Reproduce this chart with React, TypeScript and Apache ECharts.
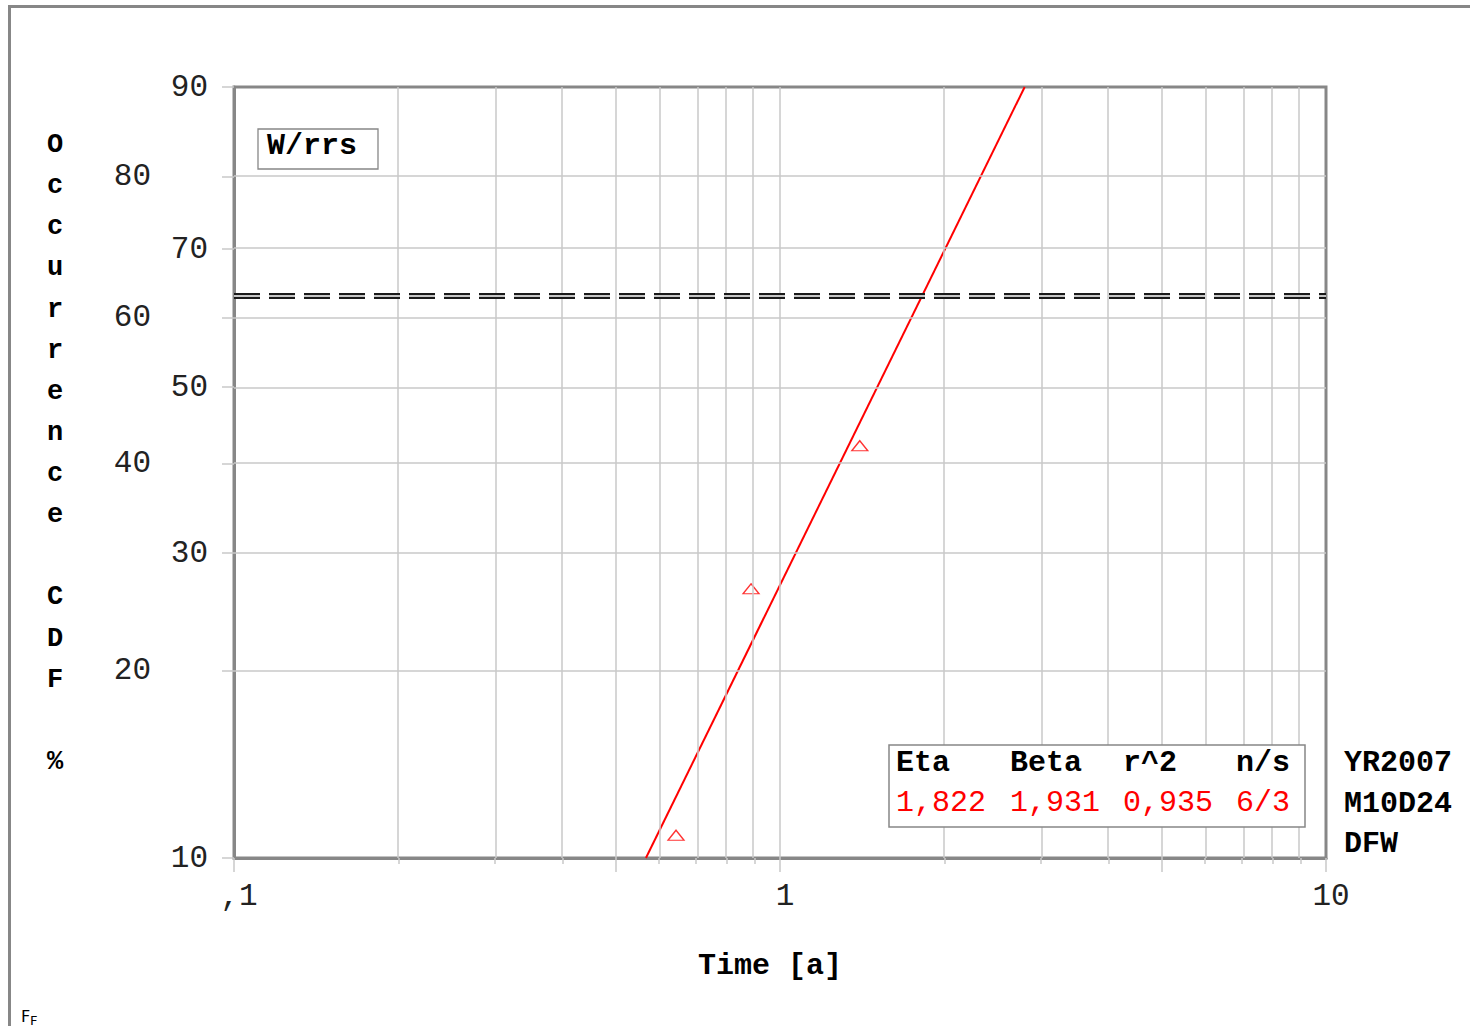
import React, { useEffect, useRef } from "react";
import * as echarts from "echarts";

// Failure data plotted on Weibull paper (median ranks, n = 6, 3 failures)
const FAILURE_TIMES = [0.645, 0.885, 1.4];
const MEDIAN_RANKS = [10.9, 26.6, 42.2];

// Fitted Weibull parameters
const ETA = 1.822;
const BETA = 1.931;
const R_SQUARED = 0.935;
const SAMPLE_SIZE = "6/3";

// Axis ticks
const Y_TICKS = [10, 20, 30, 40, 50, 60, 70, 80, 90];
const X_GRID = [0.1, 0.2, 0.3, 0.4, 0.5, 0.6, 0.7, 0.8, 0.9, 1, 2, 3, 4, 5, 6, 7, 8, 9, 10];
const X_LONG_TICKS = [0.1, 0.5, 1, 5, 10];
const X_LABEL_VALUES = [0.1, 1, 10];
const X_LABEL_TEXTS = [",1", "1", "10"];

const LEGEND_HEADERS = ["Eta", "Beta", "r^2", "n/s"];
const STAMP_LINES = ["YR2007", "M10D24", "DFW"];
const Y_TITLE = "Occurrence CDF %";

const MONO = "'Liberation Mono', 'DejaVu Sans Mono', monospace";

// Weibull probability scale and log time scale
const weib = (pct: number) => Math.log(-Math.log(1 - pct / 100));
const invWeib = (v: number) => 100 * (1 - Math.exp(-Math.exp(v)));
const lg = (t: number) => Math.log10(t);

const Y_MIN = weib(Y_TICKS[0]);
const Y_MAX = weib(Y_TICKS[Y_TICKS.length - 1]);
const X_MIN = lg(X_GRID[0]);
const X_MAX = lg(X_GRID[X_GRID.length - 1]);

const fmtComma = (v: number, d: number) => v.toFixed(d).replace(".", ",");

// time at which the fitted CDF reaches pct
const fitTime = (pct: number) => ETA * Math.pow(-Math.log(1 - pct / 100), 1 / BETA);

export default function App() {
  const ref = useRef<HTMLDivElement>(null);

  useEffect(() => {
    if (!ref.current) return;
    const chart = echarts.init(ref.current, null, { renderer: "svg" });

    const gridColor = "#c8c8c8";
    const frameColor = "#878787";

    const interiorX = X_GRID.filter((t, i) => i > 0 && i < X_GRID.length - 1);
    const interiorY = Y_TICKS.filter((p, i) => i > 0 && i < Y_TICKS.length - 1);
    const shortTicks = X_GRID.filter((t) => X_LONG_TICKS.indexOf(t) < 0);

    const fitLine = [Y_TICKS[0], Y_TICKS[Y_TICKS.length - 1]].map((p) => [lg(fitTime(p)), weib(p)]);
    const points = FAILURE_TIMES.map((t, i) => [lg(t), weib(MEDIAN_RANKS[i])]);
    const charLife = weib(100 * (1 - Math.exp(-1)));

    const legendX = [897, 1011, 1124, 1237];
    const legendValues = [fmtComma(ETA, 3), fmtComma(BETA, 3), fmtComma(R_SQUARED, 3), SAMPLE_SIZE];

    const titleChars = Y_TITLE.split("");

    const graphics: any[] = [
      // outer frame
      {
        type: "rect",
        shape: { x: 9.5, y: 6.5, width: 1500, height: 1100 },
        style: { fill: "none", stroke: frameColor, lineWidth: 3 },
        z: 1,
        silent: true,
      },
      // model box
      {
        type: "rect",
        shape: { x: 258, y: 129, width: 120, height: 40 },
        style: { fill: "#fff", stroke: frameColor, lineWidth: 1.3 },
        z: 100,
      },
      {
        type: "text",
        x: 267,
        y: 146,
        style: { text: "W/rrs", font: `bold 30px ${MONO}`, fill: "#000", textVerticalAlign: "middle" },
        z: 101,
      },
      // parameter box
      {
        type: "rect",
        shape: { x: 889, y: 745, width: 416, height: 82 },
        style: { fill: "#fff", stroke: frameColor, lineWidth: 1.5 },
        z: 100,
      },
      ...LEGEND_HEADERS.map((h, i) => ({
        type: "text",
        x: legendX[i] - 1,
        y: 763,
        style: { text: h, font: `bold 30px ${MONO}`, fill: "#000", textVerticalAlign: "middle" },
        z: 101,
      })),
      ...legendValues.map((v, i) => ({
        type: "text",
        x: legendX[i] - 1,
        y: 803,
        style: { text: v, font: `30px ${MONO}`, fill: "#ff0000", textVerticalAlign: "middle" },
        z: 101,
      })),
      ...STAMP_LINES.map((s, i) => ({
        type: "text",
        x: 1344,
        y: 763 + i * 40.5,
        style: { text: s, font: `bold 30px ${MONO}`, fill: "#000", textVerticalAlign: "middle" },
        z: 101,
      })),
      // vertical axis title, one character per row
      ...titleChars
        .map((c, i) => ({ c, i }))
        .filter((o) => o.c !== " ")
        .map((o) => ({
          type: "text",
          x: 55,
          y: 145 + o.i * 41.13,
          style: {
            text: o.c,
            font: `bold 27px ${MONO}`,
            fill: "#000",
            textAlign: "center",
            textVerticalAlign: "middle",
          },
          z: 101,
        })),
      {
        type: "text",
        x: 21,
        y: 1016,
        style: { text: "F", font: "16px 'DejaVu Sans', sans-serif", fill: "#000", textVerticalAlign: "middle" },
      },
      {
        type: "text",
        x: 30,
        y: 1020,
        style: { text: "F", font: "13px 'DejaVu Sans', sans-serif", fill: "#000", textVerticalAlign: "middle" },
      },
    ];

    const option: any = {
      animation: false,
      backgroundColor: "#fff",
      grid: {
        left: 234,
        right: 144,
        top: 87,
        bottom: 168,
        show: true,
        borderColor: frameColor,
        borderWidth: 3,
        backgroundColor: "transparent",
        containLabel: false,
        outerBoundsMode: "none",
      },
      xAxis: [
        {
          type: "value",
          min: X_MIN,
          max: X_MAX,
          position: "bottom",
          axisLine: { show: true, onZero: false, lineStyle: { color: frameColor, width: 3 } },
          axisTick: {
            show: true,
            customValues: X_LONG_TICKS.map(lg),
            length: 14,
            lineStyle: { color: gridColor, width: 1.5 },
          },
          axisLabel: {
            customValues: X_LABEL_VALUES.map(lg),
            formatter: (v: number) => {
              const idx = X_LABEL_VALUES.findIndex((t) => Math.abs(lg(t) - v) < 1e-6);
              return idx >= 0 ? X_LABEL_TEXTS[idx] : "";
            },
            margin: 23,
            fontFamily: MONO,
            fontSize: 31,
            color: "#222",
            padding: [0, 0, 0, 10],
          },
          splitLine: { show: false },
          name: "Time [a]",
          nameLocation: "middle",
          nameGap: 93,
          nameTextStyle: {
            fontFamily: MONO,
            fontSize: 30,
            fontWeight: "bold",
            color: "#000",
            padding: [0, 20, 0, 0],
          },
        },
        {
          type: "value",
          min: X_MIN,
          max: X_MAX,
          position: "bottom",
          offset: 0,
          axisLine: { show: false, onZero: false },
          axisTick: {
            show: true,
            customValues: shortTicks.map(lg),
            length: 6,
            lineStyle: { color: gridColor, width: 1.5 },
          },
          axisLabel: { show: false },
          splitLine: { show: false },
        },
      ],
      yAxis: {
        type: "value",
        min: Y_MIN,
        max: Y_MAX,
        position: "left",
        axisLine: { show: true, onZero: false, lineStyle: { color: frameColor, width: 3 } },
        axisTick: {
          show: true,
          customValues: Y_TICKS.map(weib),
          length: 12,
          lineStyle: { color: gridColor, width: 1.5 },
        },
        axisLabel: {
          customValues: Y_TICKS.map(weib),
          formatter: (v: number) => {
            const p = Math.round(invWeib(v));
            return p % 20 === 0 ? `{far|${p}}` : `{near|${p}}`;
          },
          margin: 26,
          fontFamily: MONO,
          fontSize: 31,
          color: "#222",
          rich: {
            near: { fontFamily: MONO, fontSize: 31, color: "#222" },
            far: { fontFamily: MONO, fontSize: 31, color: "#222", padding: [0, 57, 0, 0] },
          },
        },
        splitLine: { show: false },
      },
      series: [
        {
          // grid lines
          type: "line",
          data: [],
          silent: true,
          z: 1,
          markLine: {
            silent: true,
            symbol: "none",
            label: { show: false },
            lineStyle: { color: gridColor, width: 1.5, type: "solid" },
            data: [
              ...interiorX.map((t) => ({ xAxis: lg(t) })),
              ...interiorY.map((p) => ({ yAxis: weib(p) })),
            ],
          },
        },
        {
          // characteristic life (63.2 %) double dashed line
          type: "line",
          data: [],
          silent: true,
          z: 2,
          markLine: {
            silent: true,
            symbol: "none",
            label: { show: false },
            data: [
              {
                yAxis: charLife,
                lineStyle: { color: "#1a1a1a", width: 6, type: [26, 9] },
              },
              {
                yAxis: charLife,
                lineStyle: { color: "#fff", width: 1.6, type: [26, 9] },
              },
            ],
          },
        },
        {
          // Weibull fit
          type: "line",
          data: fitLine,
          symbol: "none",
          z: 3,
          lineStyle: { color: "#ff0000", width: 2 },
        },
        {
          type: "scatter",
          data: points,
          symbol: "triangle",
          symbolSize: [16, 10],
          z: 4,
          itemStyle: { color: "rgba(255,255,255,0)", borderColor: "#ff0000", borderWidth: 1.3 },
        },
      ],
      graphic: graphics,
    };

    chart.setOption(option);
    return () => chart.dispose();
  }, []);

  return (
    <div
      ref={ref}
      style={{ position: "absolute", left: 0, top: 0, width: 1470, height: 1026, background: "#fff" }}
    />
  );
}
